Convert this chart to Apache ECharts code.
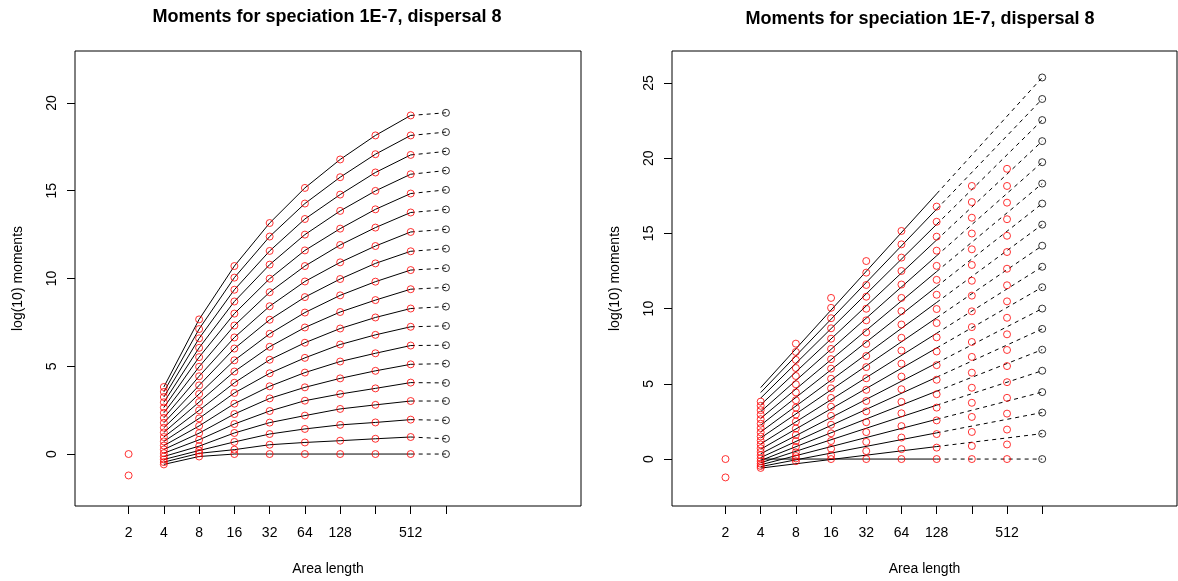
<!DOCTYPE html>
<html>
<head>
<meta charset="utf-8">
<script src="https://cdn.jsdelivr.net/npm/echarts@6/dist/echarts.min.js"></script>
<style>
  html, body { margin: 0; padding: 0; background: #fff; }
  #chart { width: 1178px; height: 581px; }
</style>
</head>
<body>
<div id="chart"></div>
<script>
// Area lengths on the x axis (log2 spaced) and the ones that carry a label
const areaLengths = [2, 4, 8, 16, 32, 64, 128, 256, 512, 1024];
const labelledLengths = [2, 4, 8, 16, 32, 64, 128, 512];
const yTicksLeft = [0, 5, 10, 15, 20];
const yTicksRight = [0, 5, 10, 15, 20, 25];

// Observed log10 moments, lowest order first
const obs2 = [0, -1.22];
const obs4 = [-0.59, -0.46, -0.31, -0.14, 0.05, 0.26, 0.48, 0.72, 0.97, 1.23, 1.5, 1.78, 2.06, 2.35, 2.65, 2.95, 3.25, 3.54, 3.82];
const obs8 = [-0.14, 0.04, 0.2, 0.45, 0.81, 1.19, 1.6, 2.03, 2.49, 2.96, 3.42, 3.91, 4.43, 4.97, 5.52, 6.05, 6.59, 7.12, 7.67];
const obs16 = [0, 0.25, 0.69, 1.2, 1.71, 2.28, 2.87, 3.48, 4.06, 4.7, 5.34, 6.01, 6.64, 7.32, 8.0, 8.69, 9.36, 10.05, 10.71];
const obs32 = [0, 0.53, 1.14, 1.79, 2.45, 3.17, 3.86, 4.6, 5.37, 6.11, 6.85, 7.65, 8.42, 9.22, 9.99, 10.79, 11.57, 12.39, 13.16];
const obs64 = [0, 0.66, 1.43, 2.19, 3.04, 3.8, 4.64, 5.48, 6.34, 7.21, 8.06, 8.94, 9.83, 10.71, 11.6, 12.5, 13.39, 14.27, 15.16];
const obs128 = [0, 0.76, 1.66, 2.57, 3.42, 4.31, 5.27, 6.24, 7.15, 8.09, 9.04, 9.97, 10.92, 11.91, 12.84, 13.85, 14.78, 15.77, 16.78];
const obs256 = [0, 0.87, 1.8, 2.8, 3.74, 4.74, 5.74, 6.79, 7.78, 8.77, 9.82, 10.86, 11.85, 12.9, 13.94, 14.99, 16.04, 17.08, 18.15];
const obs512 = [0, 0.97, 1.96, 3.02, 4.07, 5.11, 6.18, 7.25, 8.29, 9.39, 10.48, 11.55, 12.65, 13.76, 14.84, 15.94, 17.04, 18.15, 19.29];

// Left panel: curve extrapolation to length 1024
const curve1024 = [0, 0.87, 1.92, 3.02, 4.05, 5.15, 6.2, 7.3, 8.4, 9.49, 10.59, 11.7, 12.8, 13.93, 15.05, 16.15, 17.24, 18.34, 19.44];

// Right panel: straight-line fits, values at lengths 4, 128 and 1024
const fitAt4 = [0, -0.6, -0.5, -0.38, -0.25, -0.1, 0.1, 0.35, 0.65, 1.0, 1.4, 1.8, 2.25, 2.7, 3.15, 3.6, 4.05, 4.42, 4.75];
const fitAt128 = [0, 0.83, 1.74, 2.64, 3.58, 4.51, 5.44, 6.38, 7.38, 8.36, 9.39, 10.41, 11.46, 12.46, 13.51, 14.56, 15.6, 16.61, 17.63];
const fitAt1024 = [0, 1.69, 3.09, 4.45, 5.87, 7.27, 8.65, 10.0, 11.42, 12.78, 14.18, 15.58, 16.98, 18.31, 19.73, 21.13, 22.53, 23.93, 25.36];

const TITLE = 'Moments for speciation 1E-7, dispersal 8';
const FONT = "'Liberation Sans', Arial, Helvetica, sans-serif";

const observed = [[4, obs4], [8, obs8], [16, obs16], [32, obs32], [64, obs64], [128, obs128], [256, obs256], [512, obs512]];
const lx = v => Math.log2(v);

// red open circles: every observed moment
const redPoints = obs2.map(v => [lx(2), v]);
observed.forEach(([len, vals]) => vals.forEach(v => redPoints.push([lx(len), v])));

const nOrders = obs4.length;
const series = [];

function addLine(gridIndex, data, dashed) {
  series.push({
    type: 'line', xAxisIndex: gridIndex, yAxisIndex: gridIndex,
    data, showSymbol: false, silent: true, animation: false, z: 2,
    lineStyle: { color: '#000', width: 1, type: dashed ? [4, 4] : 'solid' }
  });
}

for (let k = 0; k < nOrders; k++) {
  // left: observed curves, then dashed extension
  addLine(0, observed.map(([len, vals]) => [lx(len), vals[k]]), false);
  addLine(0, [[lx(512), obs512[k]], [lx(1024), curve1024[k]]], true);
  // right: fitted straight lines
  addLine(1, [[lx(4), fitAt4[k]], [lx(128), fitAt128[k]]], false);
  addLine(1, [[lx(128), fitAt128[k]], [lx(1024), fitAt1024[k]]], true);
}

function addPoints(gridIndex, data, color) {
  series.push({
    type: 'scatter', xAxisIndex: gridIndex, yAxisIndex: gridIndex,
    data, symbol: 'circle', symbolSize: 7, silent: true, animation: false, z: 3,
    itemStyle: { color: 'rgba(0,0,0,0)', borderColor: color, borderWidth: 1 }
  });
}
addPoints(0, redPoints, '#ff0000');
addPoints(1, redPoints, '#ff0000');
addPoints(0, curve1024.map(v => [lx(1024), v]), '#000');
addPoints(1, fitAt1024.map(v => [lx(1024), v]), '#000');

const textBase = { color: '#000', fontFamily: FONT, fontSize: 14 };

function xAxis(gridIndex) {
  return {
    type: 'value', gridIndex, min: -0.52, max: 13.83, position: 'bottom',
    axisLine: { show: false, onZero: false },
    splitLine: { show: false },
    axisTick: { show: true, inside: false, length: 8, customValues: areaLengths.map(lx), lineStyle: { color: '#000' } },
    axisLabel: { ...textBase, margin: 20, customValues: labelledLengths.map(lx),
      formatter: v => String(Math.round(Math.pow(2, v))) },
    name: 'Area length', nameLocation: 'middle', nameGap: 56,
    nameTextStyle: { ...textBase }
  };
}
function yAxis(gridIndex, min, max, ticks) {
  return {
    type: 'value', gridIndex, min, max, position: 'left',
    axisLine: { show: false, onZero: false },
    splitLine: { show: false },
    axisTick: { show: true, inside: false, length: 8, customValues: ticks, lineStyle: { color: '#000' } },
    axisLabel: { ...textBase, rotate: 90, margin: 16, customValues: ticks },
    name: 'log(10) moments', nameLocation: 'middle', nameGap: 50, nameRotate: 90,
    nameTextStyle: { ...textBase }
  };
}

const titleStyle = { fontFamily: FONT, fontSize: 18, fontWeight: 'bold', color: '#000' };

const option = {
  backgroundColor: '#fff',
  animation: false,
  title: [
    { text: TITLE, left: 322, top: 3, textAlign: 'center', textStyle: titleStyle },
    { text: TITLE, left: 915, top: 5, textAlign: 'center', textStyle: titleStyle }
  ],
  grid: [
    { left: 75, top: 51, width: 506, height: 455, show: true, borderColor: '#000', borderWidth: 1, backgroundColor: 'transparent' },
    { left: 672, top: 51, width: 505, height: 456, show: true, borderColor: '#000', borderWidth: 1, backgroundColor: 'transparent' }
  ],
  xAxis: [xAxis(0), xAxis(1)],
  yAxis: [yAxis(0, -2.96, 22.96, yTicksLeft), yAxis(1, -3.12, 27.12, yTicksRight)],
  series
};

const chart = echarts.init(document.getElementById('chart'), null, { renderer: 'canvas' });
chart.setOption(option);
</script>
</body>
</html>
